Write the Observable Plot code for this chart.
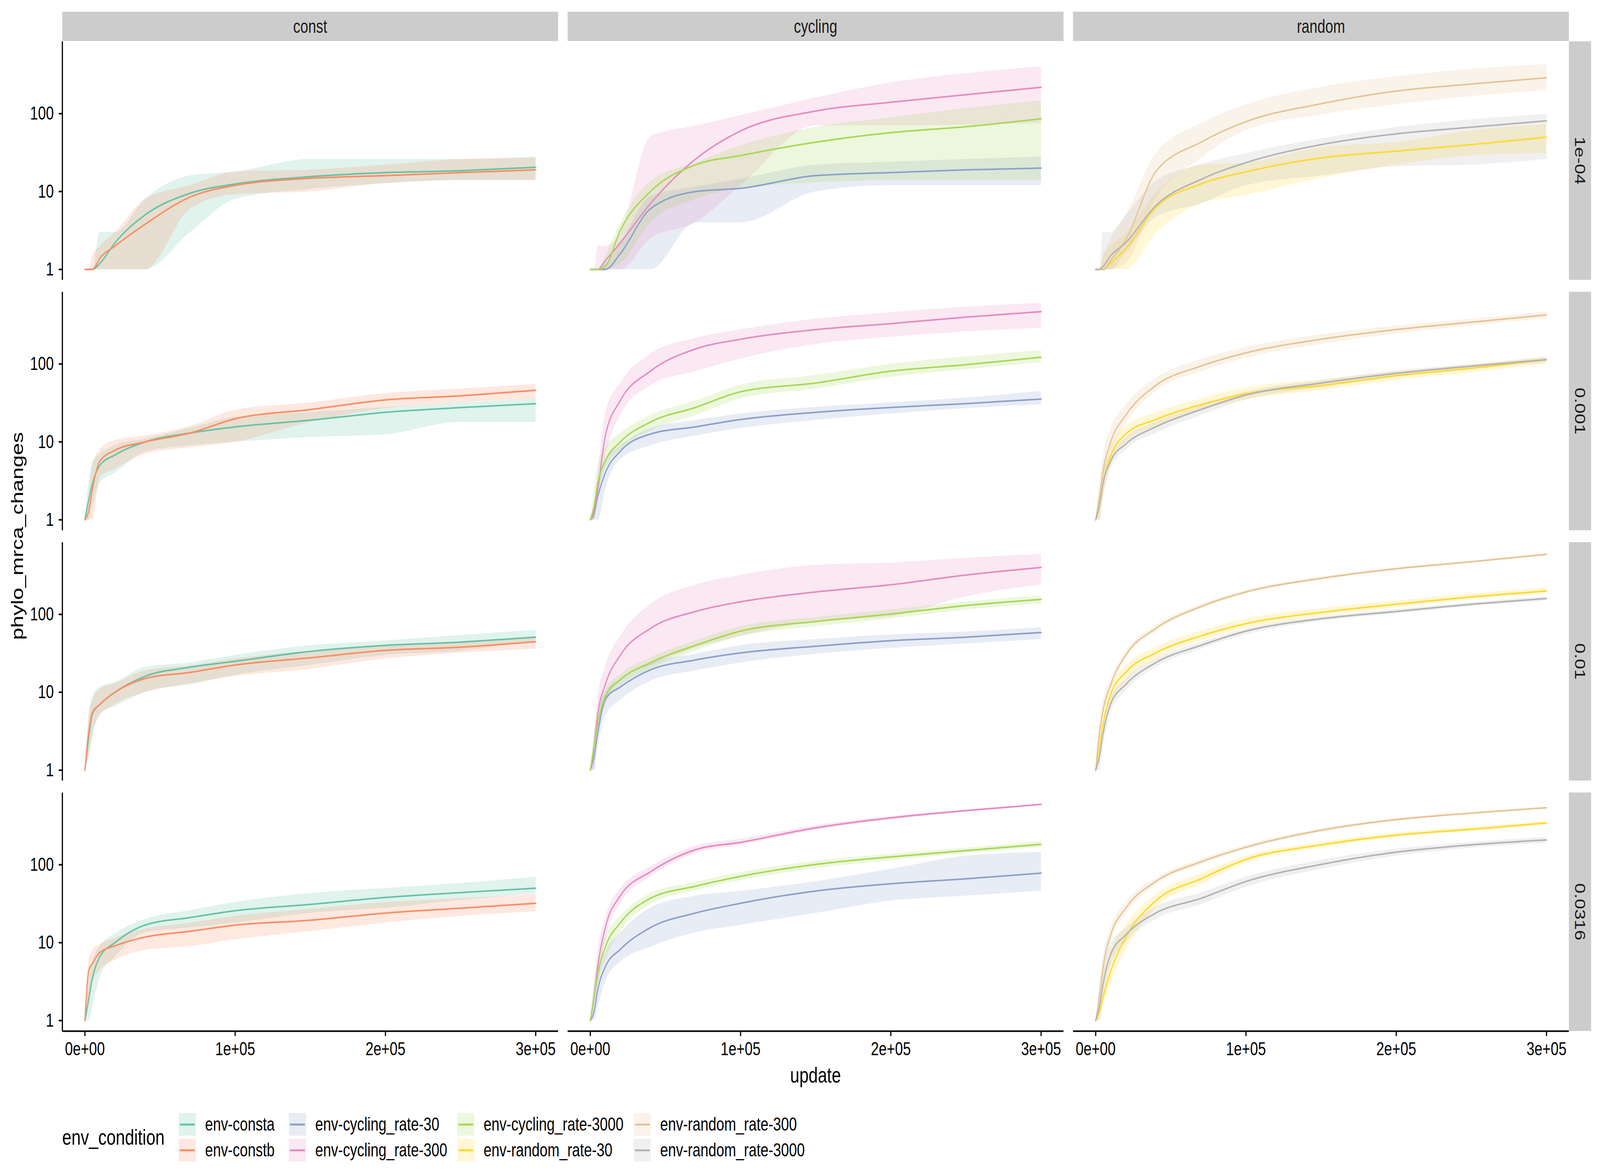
<!DOCTYPE html>
<html>
<head>
<meta charset="utf-8">
<script src="https://cdn.jsdelivr.net/npm/d3@7"></script>
<script src="https://cdn.jsdelivr.net/npm/@observablehq/plot@0.6"></script>
<style>
  html, body { margin: 0; padding: 0; background: #fff; overflow: hidden; }
  #frame { position: relative; overflow: hidden; }
  #chart { position: absolute; left: 0; top: 0; width: 5400px; height: 3000px; transform-origin: 0 0;
           font-family: "Liberation Sans", Arial, sans-serif; color: #000; background: #fff; }
  #chart svg { position: absolute; left: 0; top: 0; }
  .legend-title { position: absolute; font-size: 56px; line-height: 1; }
  .key { position: absolute; width: 58px; height: 58px; }
  .key span { position: absolute; left: 4px; right: 4px; top: 27px; height: 5px; }
  .key-label { position: absolute; font-size: 48px; line-height: 1; white-space: nowrap; }
</style>
</head>
<body>
<div id="frame"><div id="chart"></div></div>
<script>
// facet keys
const envTypes = ["const", "cycling", "random"];
const mutRates = ["1e-04", "0.001", "0.01", "0.0316"];

// series names and their Set2 colours
const conditions = [
  "env-consta", "env-constb",
  "env-cycling_rate-30", "env-cycling_rate-300", "env-cycling_rate-3000",
  "env-random_rate-30", "env-random_rate-300", "env-random_rate-3000"
];
const palette = ["#66c2a5", "#fc8d62", "#8da0cb", "#e78ac3", "#a6d854", "#ffd92f", "#e5c494", "#b3b3b3"];

// x positions the values were read at
const updates = [0, 2500, 5000, 10000, 20000, 40000, 70000, 100000, 150000, 200000, 250000, 300000];

// tick labels
const xTicks = [0, 100000, 200000, 300000];
const xTickLabels = ["0e+00", "1e+05", "2e+05", "3e+05"];
const yTicks = [1, 10, 100];
const yTickLabels = ["1", "10", "100"];

// each series: [median, lower, upper]
// mutation rate 1e-04
const consta_1e04 = [
  [1, 1, 1, 1.2, 2.2, 5, 9.5, 12.5, 15.5, 17.5, 18.5, 20.5],
  [1, 1, 1, 1, 1, 1, 3, 8, 10.8, 12.8, 14, 14],
  [1, 1, 1, 3, 3, 8, 16, 18, 26, 26, 26, 28]
];
const constb_1e04 = [
  [1, 1, 1, 1.4, 2, 3.8, 8.5, 12, 14.8, 16, 17.5, 19],
  [1, 1, 1, 1, 1, 1, 6, 9.2, 10, 12.8, 14, 14],
  [1, 1, 1.5, 2, 3, 8, 12, 18, 19, 22, 26, 27]
];
const cyc30_1e04 = [
  [1, 1, 1, 1, 1.6, 6, 10, 11, 16, 17.5, 19, 20],
  [1, 1, 1, 1, 1, 1, 4, 4, 10, 12, 12, 12],
  [1, 1, 1, 1.2, 2.2, 8.7, 11.5, 14.5, 22, 24, 26, 28]
];
const cyc300_1e04 = [
  [1, 1, 1, 1.3, 2.2, 7, 26, 60, 108, 140, 175, 218],
  [1, 1, 1, 1, 1, 2.5, 4, 12, 70, 70, 72, 75],
  [1, 1, 2, 2, 3, 51, 70, 95, 160, 250, 330, 400]
];
const cyc3000_1e04 = [
  [1, 1, 1, 1.1, 3.2, 10, 22, 29, 43, 57, 68, 86],
  [1, 1, 1, 1, 1.2, 4, 8, 11, 13, 14, 14, 14],
  [1, 1, 1, 1.5, 4, 13.5, 23.5, 39, 67, 89, 117, 147]
];
const rnd30_1e04 = [
  [1, 1, 1, 1.2, 1.85, 6.2, 12.5, 17.9, 27, 33, 40, 50],
  [1, 1, 1, 1, 1, 2.9, 7, 9, 15, 22, 29, 31],
  [1, 1, 1.5, 2, 2.9, 9.7, 22, 23.5, 37, 43, 61, 73]
];
const rnd300_1e04 = [
  [1, 1, 1, 1.3, 2.4, 18, 43, 79, 134, 195, 240, 289],
  [1, 1, 1, 1, 1.2, 8, 27, 61, 97, 131, 167, 200],
  [1, 1, 1.5, 2.5, 5, 31, 75, 131, 220, 300, 375, 430]
];
const rnd3000_1e04 = [
  [1, 1, 1.1, 1.5, 2.2, 6.6, 14.3, 23.5, 40, 55, 67, 81],
  [1, 1, 1, 1, 1.6, 4.7, 7, 12, 16, 21, 22, 26],
  [1, 1, 3, 3, 5, 13.5, 22.3, 31, 48, 67, 84, 99]
];

// mutation rate 0.001
const consta_001 = [
  [1, 1.8, 2.9, 5, 6.8, 10, 13, 15.6, 19, 24, 27.6, 31],
  [1, 1, 1.5, 3, 4, 7.5, 9, 10, 11.5, 12.5, 18, 18],
  [1, 3, 5.5, 7, 9, 11, 15, 21, 24, 28, 32, 36]
];
const constb_001 = [
  [1, 1.3, 2.5, 5.7, 7.8, 10, 13, 19.8, 26, 34.6, 39, 46],
  [1, 1, 1, 3.5, 4.5, 7, 8.5, 10, 18, 27, 32, 36],
  [1, 2, 5, 8, 10.5, 12, 16, 25.7, 32, 42, 48, 55]
];
const cyc30_001 = [
  [1, 1.2, 2, 4, 7.6, 12.6, 15.6, 19.4, 24, 27.7, 31, 35.5],
  [1, 1, 1, 2.5, 6, 9, 12, 15, 19, 23, 27, 30],
  [1, 1.5, 3, 6, 9, 15, 19, 23, 28, 32, 37, 45]
];
const cyc300_001 = [
  [1, 1.3, 2.5, 12, 34, 81, 156, 208, 276, 330, 400, 470],
  [1, 1, 2, 6.6, 22, 53, 81, 117, 180, 223, 260, 290],
  [1, 1.5, 4, 24, 57, 135, 215, 276, 380, 460, 540, 610]
];
const cyc3000_001 = [
  [1, 1.5, 3, 5.7, 10, 18, 27.7, 44, 57, 81, 98, 122],
  [1, 1, 2, 4.5, 8, 14, 22, 36, 48, 68, 85, 105],
  [1, 2.5, 5, 8.5, 13, 22, 34, 54, 72, 100, 125, 150]
];
const rnd30_001 = [
  [1, 1.5, 3, 6.6, 12.6, 19.4, 30, 41.6, 53, 71, 88, 114],
  [1, 1, 2, 5, 10, 16, 26, 35, 46, 62, 78, 100],
  [1, 2.5, 5, 9, 16, 24, 36, 50, 63, 80, 98, 125]
];
const rnd300_001 = [
  [1, 2, 4.3, 10, 22, 53, 94, 139, 208, 277, 344, 427],
  [1, 1.5, 3, 7, 17, 45, 80, 120, 180, 245, 310, 385],
  [1, 3, 7, 15, 30, 66, 115, 165, 240, 310, 380, 470]
];
const rnd3000_001 = [
  [1, 1.5, 3, 5.7, 9.4, 15.6, 26, 40, 57, 76, 94, 114],
  [1, 1, 2, 4.5, 8, 13, 22, 35, 50, 68, 86, 104],
  [1, 2, 4, 7, 11.5, 18, 29, 44, 62, 82, 100, 122]
];

// mutation rate 0.01
const consta_01 = [
  [1, 2.6, 5.3, 7, 10, 16, 21, 25, 33.5, 40, 44, 51],
  [1, 1.5, 2.6, 5.3, 6.6, 10, 12.6, 16.7, 22.4, 30, 34, 46],
  [1, 4.6, 8.8, 11.7, 13.5, 21, 24, 30, 40, 46, 54, 63]
];
const constb_01 = [
  [1, 3, 5.5, 7, 10, 15, 18, 22.4, 27.7, 34.5, 38, 44.7],
  [1, 1.5, 3, 5, 7, 10, 13, 16, 20, 27, 32, 36],
  [1, 5, 8, 11, 13, 19, 22, 27, 34, 40, 45, 50]
];
const cyc30_01 = [
  [1, 1.5, 3, 8.2, 11.7, 19.4, 26, 32, 39, 46, 51, 58.6],
  [1, 1, 2, 5, 8, 14, 19, 24, 31, 37, 42, 48],
  [1, 2, 5, 10, 15, 24, 31, 40, 48, 55, 60, 68]
];
const cyc300_01 = [
  [1, 2, 5.3, 12.6, 30, 66, 109, 145, 194, 240, 320, 400],
  [1, 1, 3, 7, 14.5, 22, 37, 53, 81, 94, 170, 240],
  [1, 3, 9, 22, 53, 135, 240, 320, 430, 460, 530, 595]
];
const cyc3000_01 = [
  [1, 2, 4, 8.8, 14.5, 24, 40, 61, 81, 101, 130, 156],
  [1, 1.5, 3, 7, 12, 20, 34, 52, 70, 88, 115, 138],
  [1, 3, 6, 11, 17, 28, 46, 70, 92, 115, 145, 175]
];
const rnd30_01 = [
  [1, 2, 4, 9.4, 18, 32, 53, 76, 106, 135, 168, 200],
  [1, 1.5, 3, 7, 14, 27, 46, 67, 95, 122, 155, 185],
  [1, 3, 6, 12, 22, 38, 62, 88, 120, 150, 185, 222]
];
const rnd300_01 = [
  [1, 3, 6, 12.6, 30, 66, 126, 194, 290, 385, 473, 590],
  [1, 2, 5, 11, 27, 60, 118, 184, 278, 372, 460, 575],
  [1, 4, 8, 15, 34, 72, 135, 205, 305, 400, 490, 610]
];
const rnd3000_01 = [
  [1, 1.5, 3, 7.1, 12.6, 24, 40, 61, 88, 109, 135, 160],
  [1, 1, 2, 5.5, 10.5, 21, 36, 55, 82, 102, 128, 150],
  [1, 2, 4, 8.5, 15, 27, 44, 66, 94, 116, 142, 170]
];

// mutation rate 0.0316
const consta_0316 = [
  [1, 1.9, 3.5, 6.6, 10, 16.8, 21, 25.7, 31, 38, 44, 50],
  [1, 1, 1.5, 3.7, 6.6, 13.5, 15.6, 18, 24, 28, 35, 43],
  [1, 3, 5.5, 9, 13, 20, 26, 33, 43, 50, 58, 70]
];
const constb_0316 = [
  [1, 4.3, 5.4, 7.5, 9.1, 11.8, 14, 16.8, 19.4, 24, 27.7, 32],
  [1, 1.5, 3, 4.5, 6, 8, 9, 11, 14, 18, 22, 25],
  [1, 6, 8, 9.5, 11.5, 15, 18, 22, 27, 33, 37, 42]
];
const cyc30_0316 = [
  [1, 1.3, 2.5, 4.9, 8.2, 15.6, 24, 32, 46, 57, 66, 78],
  [1, 1, 1.5, 3.2, 5.7, 8.8, 13.5, 16.8, 24, 34.5, 40, 46],
  [1, 2, 4, 7.6, 13.5, 28, 40, 46, 61, 88, 130, 145]
];
const cyc300_0316 = [
  [1, 2, 5, 15.6, 40, 81, 156, 194, 298, 400, 495, 595],
  [1, 1.5, 3, 11, 32, 70, 140, 178, 280, 380, 480, 580],
  [1, 3, 8, 21, 50, 95, 175, 215, 320, 420, 510, 610]
];
const cyc3000_0316 = [
  [1, 2, 4, 8.8, 18, 37, 53, 71, 101, 126, 152, 183],
  [1, 1.5, 3, 6, 14, 31, 47, 63, 90, 114, 140, 168],
  [1, 3, 6, 12, 22, 43, 60, 80, 112, 138, 165, 200]
];
const rnd30_0316 = [
  [1, 1.3, 2, 4.3, 11.7, 34.5, 66, 117, 180, 240, 285, 344],
  [1, 1, 1.5, 3, 8, 28, 56, 105, 165, 225, 270, 325],
  [1, 2, 4, 8, 17, 42, 78, 130, 195, 258, 305, 365]
];
const rnd300_0316 = [
  [1, 2, 5, 12.6, 27.7, 61, 109, 168, 277, 380, 460, 540],
  [1, 1.5, 3.5, 10, 23, 55, 100, 158, 265, 365, 447, 525],
  [1, 3, 7, 16, 33, 68, 118, 180, 290, 395, 475, 555]
];
const rnd3000_0316 = [
  [1, 1.5, 3, 7.1, 12.6, 24, 37, 61, 101, 145, 180, 208],
  [1, 1, 2, 5, 10, 20, 31, 52, 88, 130, 165, 190],
  [1, 2.5, 5, 9.5, 15.5, 29, 44, 70, 115, 160, 195, 228]
];

const seriesList = [
  ["env-consta", "const", "1e-04", consta_1e04], ["env-constb", "const", "1e-04", constb_1e04],
  ["env-cycling_rate-30", "cycling", "1e-04", cyc30_1e04], ["env-cycling_rate-300", "cycling", "1e-04", cyc300_1e04],
  ["env-cycling_rate-3000", "cycling", "1e-04", cyc3000_1e04], ["env-random_rate-30", "random", "1e-04", rnd30_1e04],
  ["env-random_rate-300", "random", "1e-04", rnd300_1e04], ["env-random_rate-3000", "random", "1e-04", rnd3000_1e04],
  ["env-consta", "const", "0.001", consta_001], ["env-constb", "const", "0.001", constb_001],
  ["env-cycling_rate-30", "cycling", "0.001", cyc30_001], ["env-cycling_rate-300", "cycling", "0.001", cyc300_001],
  ["env-cycling_rate-3000", "cycling", "0.001", cyc3000_001], ["env-random_rate-30", "random", "0.001", rnd30_001],
  ["env-random_rate-300", "random", "0.001", rnd300_001], ["env-random_rate-3000", "random", "0.001", rnd3000_001],
  ["env-consta", "const", "0.01", consta_01], ["env-constb", "const", "0.01", constb_01],
  ["env-cycling_rate-30", "cycling", "0.01", cyc30_01], ["env-cycling_rate-300", "cycling", "0.01", cyc300_01],
  ["env-cycling_rate-3000", "cycling", "0.01", cyc3000_01], ["env-random_rate-30", "random", "0.01", rnd30_01],
  ["env-random_rate-300", "random", "0.01", rnd300_01], ["env-random_rate-3000", "random", "0.01", rnd3000_01],
  ["env-consta", "const", "0.0316", consta_0316], ["env-constb", "const", "0.0316", constb_0316],
  ["env-cycling_rate-30", "cycling", "0.0316", cyc30_0316], ["env-cycling_rate-300", "cycling", "0.0316", cyc300_0316],
  ["env-cycling_rate-3000", "cycling", "0.0316", cyc3000_0316], ["env-random_rate-30", "random", "0.0316", rnd30_0316],
  ["env-random_rate-300", "random", "0.0316", rnd300_0316], ["env-random_rate-3000", "random", "0.0316", rnd3000_0316]
];

// long table for Plot
var rows = [];
seriesList.forEach(([cond, env, rate, s]) => {
  updates.forEach((u, i) => {
    rows.push({update: u, env: env, rate: rate, cond: cond, med: s[0][i], lo: s[1][i], hi: s[2][i]});
  });
});

const xDomain = [-15000, 315000];
const yDomain = [0.731, 841];
const font = "'Liberation Sans', Arial, sans-serif";

var plot = Plot.plot({
  width: 5400,
  height: 2800,
  marginTop: 106,
  marginRight: 105,
  marginBottom: 161,
  marginLeft: 210,
  style: {fontFamily: font, fontSize: "48px", color: "#000", background: "transparent", overflow: "visible"},
  fx: {domain: envTypes, paddingInner: 0.0188, paddingOuter: 0, round: false, axis: null},
  fy: {domain: mutRates, paddingInner: 0.0476, paddingOuter: 0, round: false, axis: null},
  x: {domain: xDomain},
  y: {type: "log", domain: yDomain},
  color: {domain: conditions, range: palette},
  marks: [
    Plot.areaY(rows, {x: "update", y1: "lo", y2: "hi", fx: "env", fy: "rate", z: "cond",
      fill: "cond", fillOpacity: 0.2, curve: "monotone-x"}),
    Plot.lineY(rows, {x: "update", y: "med", fx: "env", fy: "rate", z: "cond",
      stroke: "cond", strokeWidth: 4, curve: "monotone-x"}),
    Plot.ruleX([{env: "const"}], {x: () => xDomain[0], fx: "env", stroke: "#000", strokeWidth: 4}),
    Plot.ruleY([{rate: "0.0316"}], {y: () => yDomain[0], fy: "rate", stroke: "#000", strokeWidth: 4}),
    Plot.axisX({ticks: xTicks, tickFormat: d => xTickLabels[xTicks.indexOf(d)], tickSize: 13,
      tickPadding: 14, strokeWidth: 4, fontSize: 48, label: null}),
    Plot.axisY({ticks: yTicks, tickFormat: d => yTickLabels[yTicks.indexOf(d)], tickSize: 12,
      tickPadding: 17, strokeWidth: 4, fontSize: 48, label: null})
  ]
});

// facet strips and axis titles, placed with the plot's own facet scales
var svg = d3.select(plot);
var fx = plot.scale("fx"), fy = plot.scale("fy");
var stripG = svg.append("g").attr("font-family", font).attr("font-size", 48);
envTypes.forEach((k) => {
  var x0 = fx.apply(k);
  stripG.append("rect").attr("x", x0).attr("y", 30).attr("width", fx.bandwidth).attr("height", 75).attr("fill", "#cccccc");
  stripG.append("text").attr("x", x0 + fx.bandwidth / 2).attr("y", 67.5).attr("text-anchor", "middle")
    .attr("dominant-baseline", "central").attr("fill", "#1a1a1a").text(k);
});
var stripX = 5400 - 105;
mutRates.forEach((k) => {
  var y0 = fy.apply(k);
  stripG.append("rect").attr("x", stripX).attr("y", y0).attr("width", 75).attr("height", fy.bandwidth).attr("fill", "#cccccc");
  stripG.append("text").attr("transform", `translate(${stripX + 37.5},${y0 + fy.bandwidth / 2}) rotate(90)`)
    .attr("text-anchor", "middle").attr("dominant-baseline", "central").attr("fill", "#1a1a1a").text(k);
});
svg.append("text").attr("x", (210 + 5295) / 2).attr("y", 2752).attr("text-anchor", "middle")
  .attr("dominant-baseline", "central").attr("font-family", font).attr("font-size", 56).text("update");
svg.append("text").attr("transform", "translate(58,1372) rotate(-90)").attr("text-anchor", "middle")
  .attr("dominant-baseline", "central").attr("font-family", font).attr("font-size", 56).text("phylo_mrca_changes");

var chart = document.getElementById("chart");
chart.appendChild(plot);

// legend below the plot, two rows, filled column by column
var legCols = [603, 975, 1543, 2139];
var legRows = [2878, 2944];
var title = document.createElement("div");
title.className = "legend-title";
title.textContent = "env_condition";
title.style.left = "210px";
title.style.top = (2911 - 28) + "px";
chart.appendChild(title);
conditions.forEach((c, i) => {
  var col = Math.floor(i / 2), row = i % 2;
  var key = document.createElement("div");
  key.className = "key";
  key.style.left = legCols[col] + "px";
  key.style.top = (legRows[row] - 29) + "px";
  key.style.background = d3.color(palette[i]).copy({opacity: 0.2}).formatRgb();
  var line = document.createElement("span");
  line.style.background = palette[i];
  key.appendChild(line);
  chart.appendChild(key);
  var lab = document.createElement("div");
  lab.className = "key-label";
  lab.textContent = c;
  lab.style.left = (legCols[col] + 89) + "px";
  lab.style.top = (legRows[row] - 24) + "px";
  chart.appendChild(lab);
});

// the 5400 x 3000 design fills whatever css viewport the window gives
function fit() {
  var w = window.innerWidth || 5400, h = window.innerHeight || 3000;
  var frame = document.getElementById("frame");
  frame.style.width = w + "px";
  frame.style.height = h + "px";
  chart.style.transform = "scale(" + (w / 5400) + "," + (h / 3000) + ")";
}
fit();
window.addEventListener("resize", fit);
</script>
</body>
</html>
